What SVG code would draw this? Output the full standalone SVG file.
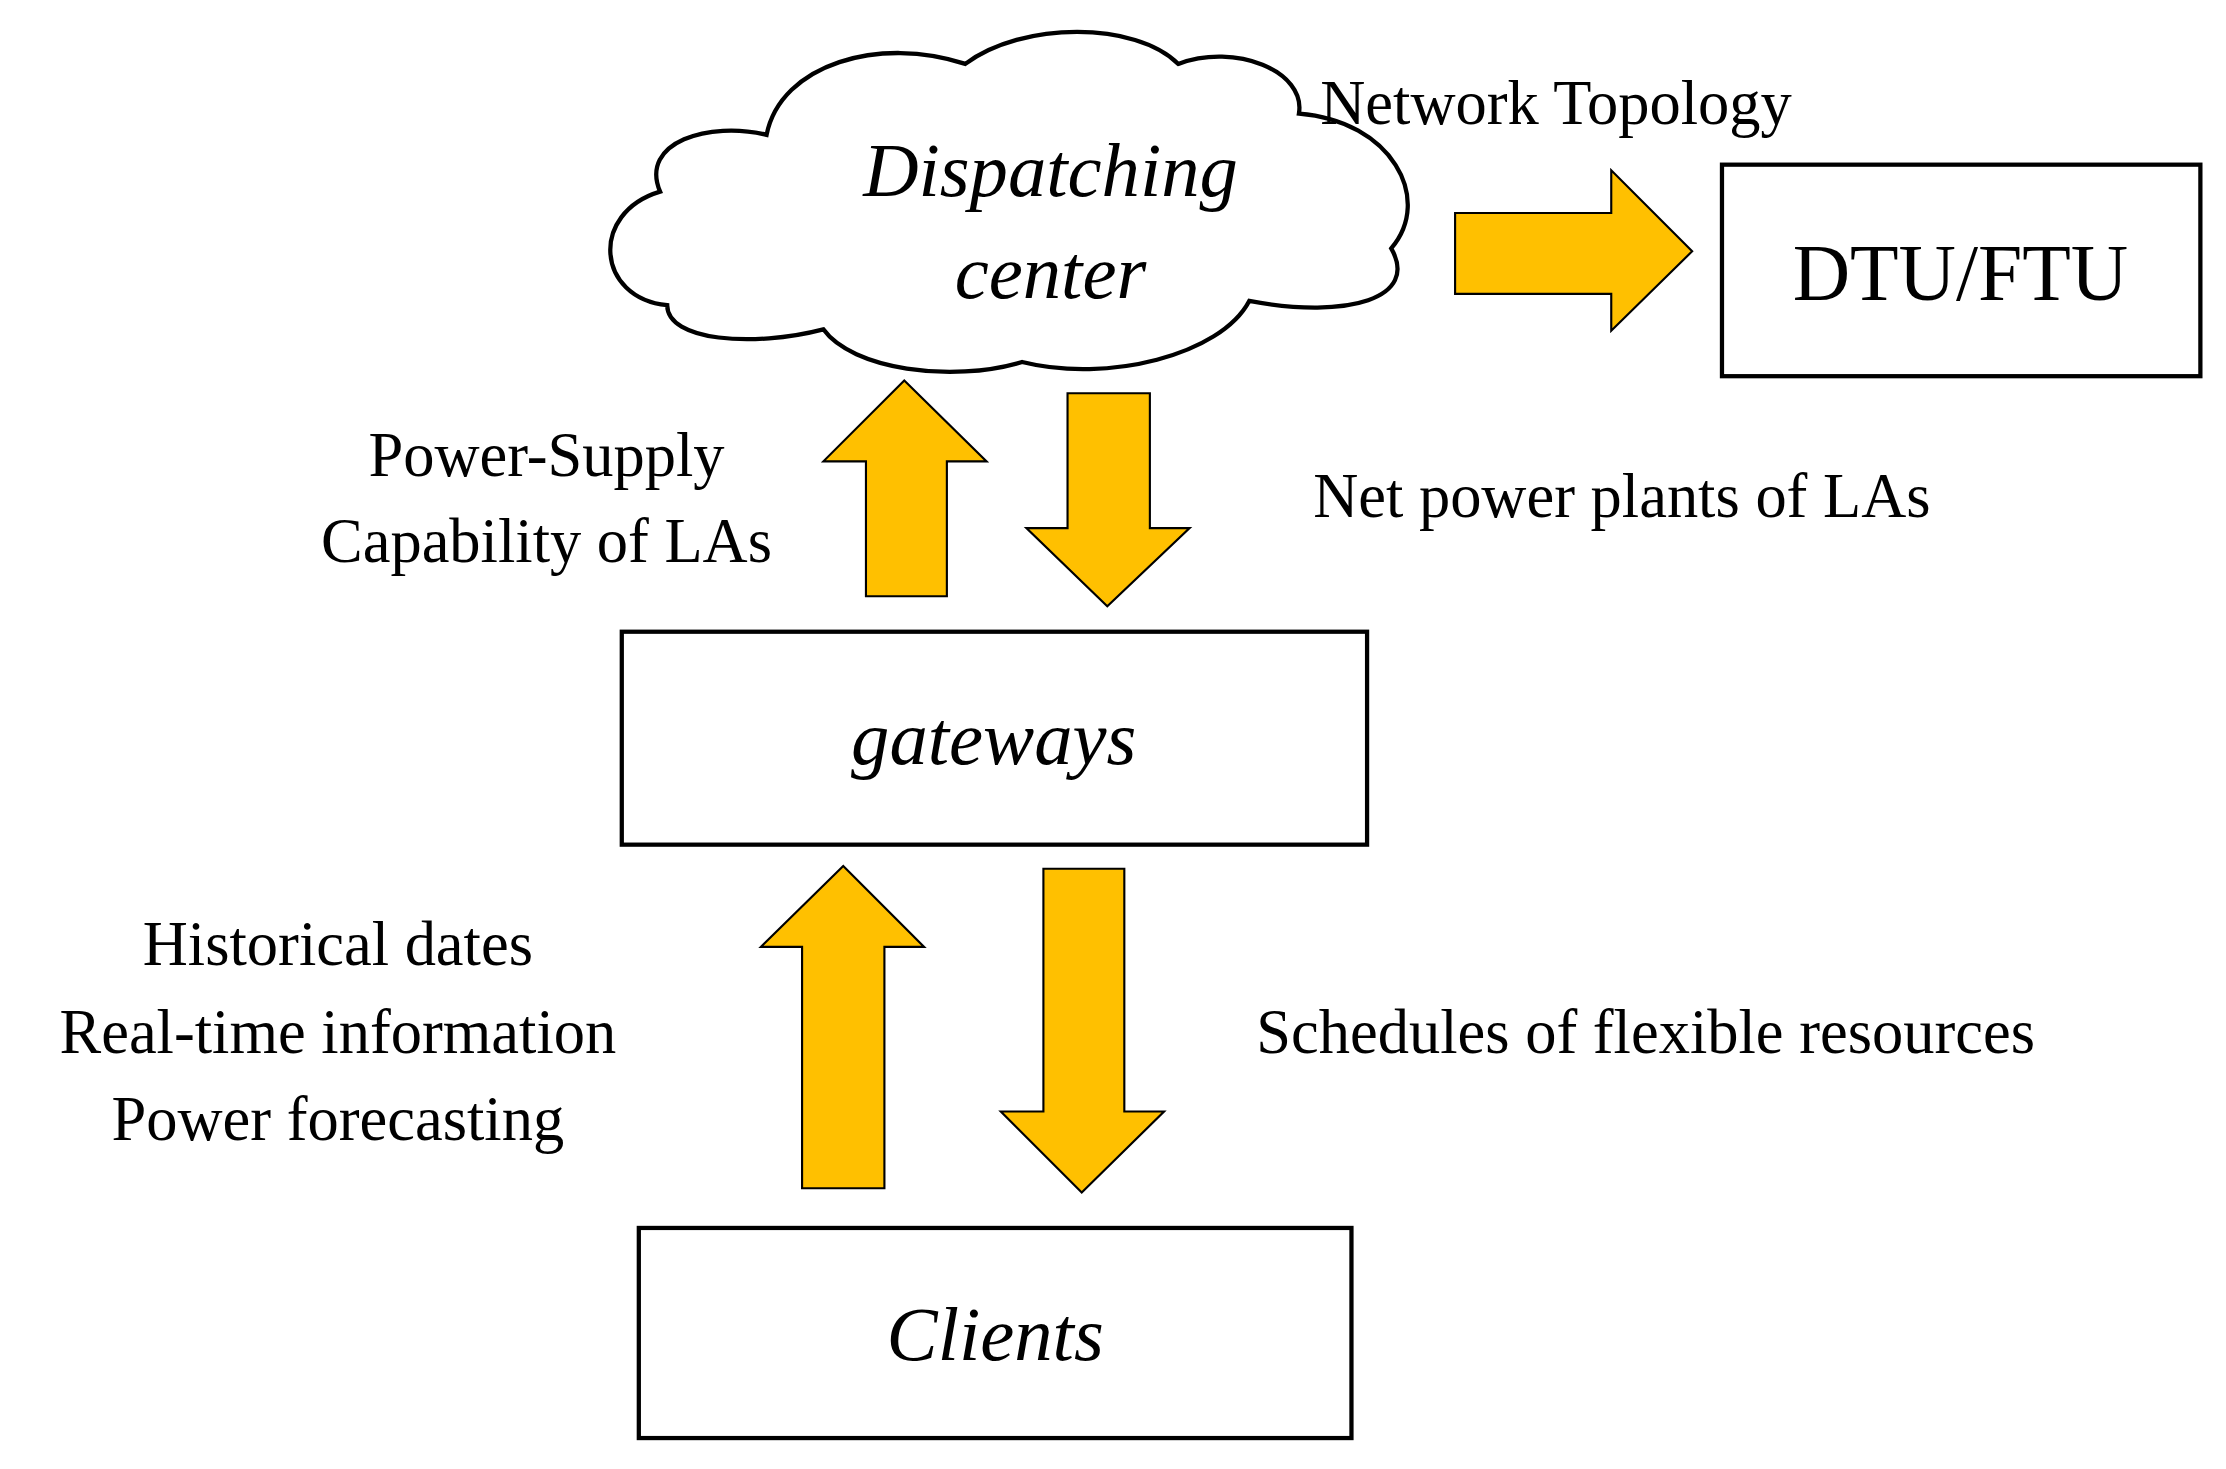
<svg xmlns="http://www.w3.org/2000/svg" width="2226" height="1469" viewBox="0 0 2226 1469">
<style>
.box{fill:#fff;stroke:#000;stroke-width:3}
.arr{fill:#FFC000;stroke:#000;stroke-width:1.5}
text{font-family:"Liberation Serif",serif;fill:#000}
.lbl{font-size:44px}
.it{font-style:italic;font-size:54px}
</style>
<rect width="2226" height="1469" fill="#fff"/>
<g transform="scale(1.4196)">
<g id="cloud">
<path class="box" d="M470,215 C420,210 415,150 465,135 C450,100 500,85 540,95 C550,45 620,25 680,45 C720,15 800,15 830,45 C870,30 920,50 915,80 C980,85 1010,140 980,175 C1000,210 950,225 880,212 C860,250 780,270 720,255 C670,270 600,260 580,232 C530,245 470,240 470,215 Z"/>
<text class="it" x="740" y="138" text-anchor="middle">Dispatching</text>
<text class="it" x="740" y="210" text-anchor="middle">center</text>
</g>
<g id="dtu">
<rect class="box" x="1213" y="116" width="337" height="149"/>
<text x="1381" y="211" text-anchor="middle" font-size="56">DTU/FTU</text>
</g>
<g id="gateways">
<rect class="box" x="438" y="445" width="525" height="150"/>
<text class="it" x="700" y="538" text-anchor="middle">gateways</text>
</g>
<g id="clients">
<rect class="box" x="450" y="865" width="502" height="148"/>
<text class="it" x="701" y="958" text-anchor="middle">Clients</text>
</g>
<g id="connectors">
<path class="arr" d="M1025,150 L1135,150 L1135,120 L1192,177 L1135,233 L1135,207 L1025,207 Z"/>
<path class="arr" d="M610,420 L610,325 L580,325 L637,268 L695,325 L667,325 L667,420 Z"/>
<path class="arr" d="M752,277 L810,277 L810,372 L838,372 L780,427 L723,372 L752,372 Z"/>
<path class="arr" d="M565,837 L565,667 L536,667 L594,610 L651,667 L623,667 L623,837 Z"/>
<path class="arr" d="M735,612 L792,612 L792,783 L820,783 L762,840 L705,783 L735,783 Z"/>
</g>
<g id="labels">
<text class="lbl" x="930" y="87">Network Topology</text>
<text class="lbl" x="385" y="335" text-anchor="middle">Power-Supply</text>
<text class="lbl" x="385" y="396" text-anchor="middle">Capability of LAs</text>
<text class="lbl" x="925" y="364">Net power plants of LAs</text>
<text class="lbl" x="238" y="680" text-anchor="middle">Historical dates</text>
<text class="lbl" x="238" y="742" text-anchor="middle">Real-time information</text>
<text class="lbl" x="238" y="803" text-anchor="middle">Power forecasting</text>
<text class="lbl" x="885" y="742">Schedules of flexible resources</text>
</g>
</g>
</svg>
